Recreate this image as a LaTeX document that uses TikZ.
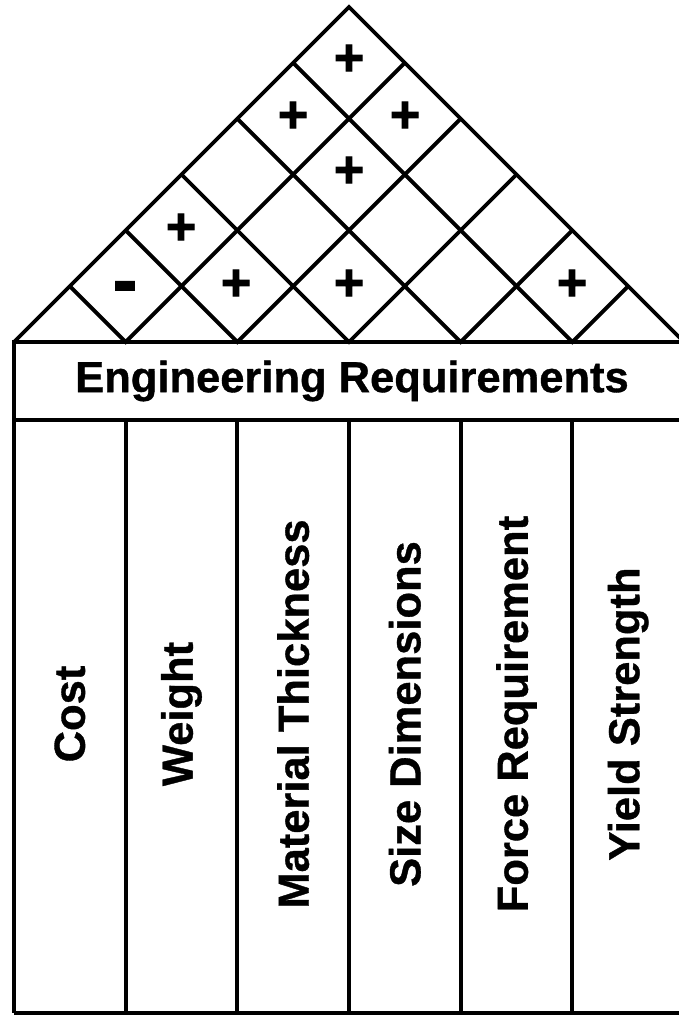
\documentclass[tikz,border=0pt]{standalone}
\usepackage{fontspec}
\setmainfont{Liberation Sans}
\newfontfamily\signfont[FakeBold=1.8]{Liberation Sans Bold}
\newfontfamily\lblfont[FakeBold=0.8]{Liberation Sans Bold}
\usetikzlibrary{calc}
\begin{document}
\begin{tikzpicture}[x=1pt,y=-1pt, line width=3.8pt, line join=miter,
  lbl/.style={font=\fontsize{43.5}{50}\lblfont, inner sep=0pt},
  sign/.style={font=\fontsize{52}{56}\signfont, inner sep=0pt},
  minus/.style={font=\fontsize{72}{76}\signfont, inner sep=0pt}]
\useasboundingbox (0,0) rectangle (678,1015);
\fill[white] (0,0) rectangle (678,1015);
% base points of the roof (column boundaries)
\foreach \i in {0,...,6} \coordinate (b\i) at ({14+\i*111.6667},342);
\coordinate (apex) at (349,7);
% roof outline
\draw (b0) -- (apex) -- (b6);
% roof lattice
\foreach \i in {1,...,5} {
  \pgfmathsetmacro\xi{14+\i*111.6667}
  \coordinate (l\i) at ({(14+\xi)/2},{342-(\xi-14)/2});
  \coordinate (r\i) at ({(684+\xi)/2},{342-(684-\xi)/2});
  \draw (l\i) -- (b\i) -- (r\i);
}
% header box
\coordinate (h6) at (684,420);
\draw (b0) rectangle (h6);
\node[lbl] (hdr) at (352,381) {Engineering Requirements};
% columns
\foreach \i in {0,...,6} {
  \coordinate (t\i) at ({14+\i*111.6667},420);
  \coordinate (f\i) at ({14+\i*111.6667},1013);
  \draw (t\i) -- (f\i);
}
\draw (f0) -- (f6);
% column labels
\foreach \t [count=\i from 0] in {Cost,Weight,Material Thickness,Size Dimensions,Force Requirement,Yield Strength} {
  \node[lbl, rotate=90] (c\i) at ({14+(\i+0.5)*111.6667},714) {\t};
}
% correlation signs
\node[minus] (s1) at (125,293) {-};
\node[sign] (s2) at (236,285) {+};
\node[sign] (s3) at (349,285) {+};
\node[sign] (s4) at (572,285) {+};
\node[sign] (s5) at (181,229) {+};
\node[sign] (s6) at (349,172) {+};
\node[sign] (s7) at (293,117) {+};
\node[sign] (s8) at (405,117) {+};
\node[sign] (s9) at (349,60) {+};
\end{tikzpicture}
\end{document}
